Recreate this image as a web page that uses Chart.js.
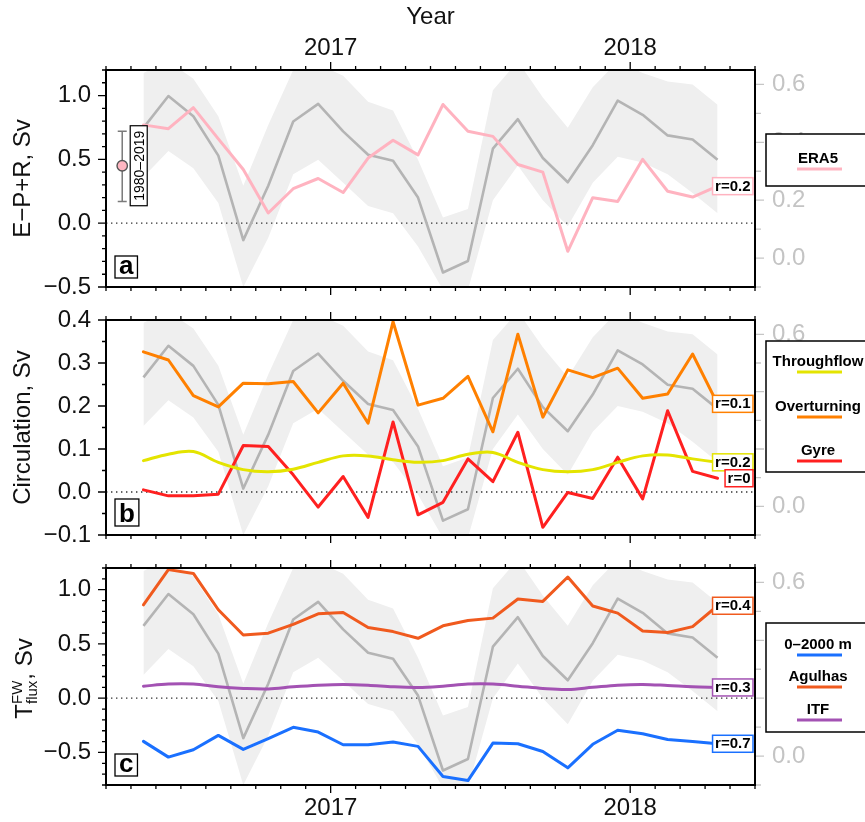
<!DOCTYPE html>
<html>
<head>
<meta charset="utf-8">
<script src="https://cdn.jsdelivr.net/npm/chart.js@4.4.1/dist/chart.umd.min.js"></script>
<style>
  html, body { margin: 0; padding: 0; background: #fff; }
  #wrap { position: relative; width: 865px; height: 822px; overflow: hidden; background: #fff; }
  #wrap canvas { position: absolute; left: 0; }
</style>
</head>
<body>
<div id="wrap">
  <canvas id="panelA" width="865" height="300" style="top:0px"></canvas>
  <canvas id="panelB" width="865" height="250" style="top:300px"></canvas>
  <canvas id="panelC" width="865" height="272" style="top:550px"></canvas>
</div>
<script>
// ---- monthly series, May 2016 - Apr 2018 ----
const months = ['2016-05','2016-06','2016-07','2016-08','2016-09','2016-10','2016-11','2016-12',
                '2017-01','2017-02','2017-03','2017-04','2017-05','2017-06','2017-07','2017-08',
                '2017-09','2017-10','2017-11','2017-12','2018-01','2018-02','2018-03','2018-04'];
const axisStart = '2016-04';
const axisEnd = '2018-06';
const yearTicks = [2017, 2018];

// grey index (right axis) with its spread
const indexMean  = [0.45, 0.56, 0.49, 0.354, 0.062, 0.25, 0.472, 0.533, 0.438, 0.357, 0.336, 0.209,
                    -0.05, -0.01, 0.378, 0.48, 0.346, 0.262, 0.39, 0.544, 0.495, 0.424, 0.41, 0.34];
const indexUpper = [0.64, 0.68, 0.62, 0.49, 0.25, 0.46, 0.65, 0.67, 0.63, 0.54, 0.51, 0.34,
                    0.14, 0.17, 0.58, 0.68, 0.555, 0.45, 0.59, 0.68, 0.64, 0.61, 0.6, 0.53];
const indexLower = [0.28, 0.37, 0.31, 0.19, -0.1, 0.07, 0.29, 0.34, 0.26, 0.18, 0.155, 0.04,
                    -0.11, -0.11, 0.2, 0.32, 0.2, 0.11, 0.26, 0.35, 0.33, 0.29, 0.225, 0.155];

// (a) E-P+R
const era5 = [0.77, 0.74, 0.905, 0.66, 0.42, 0.08, 0.27, 0.35, 0.24, 0.51, 0.65, 0.535,
              0.93, 0.72, 0.68, 0.46, 0.40, -0.22, 0.2, 0.17, 0.50, 0.25, 0.205, 0.29];
const era5Clim = [0.17, 0.45, 0.72];   // low, mean, high
const era5ClimLabel = '1980–2019';
const era5ClimX = 3.65;

// (b) circulation
const throughflow = [0.073, 0.088, 0.094, 0.069, 0.052, 0.047, 0.053, 0.069, 0.084, 0.084, 0.075, 0.069,
                     0.073, 0.088, 0.092, 0.069, 0.052, 0.047, 0.052, 0.069, 0.084, 0.086, 0.077, 0.069];
const overturning = [0.326, 0.307, 0.224, 0.198, 0.253, 0.252, 0.257, 0.184, 0.253, 0.16, 0.396, 0.202,
                     0.218, 0.269, 0.14, 0.367, 0.174, 0.284, 0.266, 0.288, 0.218, 0.228, 0.321, 0.205];
const gyre        = [0.005, -0.009, -0.009, -0.005, 0.108, 0.106, 0.04, -0.035, 0.036, -0.059, 0.163, -0.053,
                     -0.024, 0.077, 0.024, 0.139, -0.082, -0.001, -0.015, 0.081, -0.016, 0.189, 0.048, 0.032];

// (c) freshwater flux
const fw0to2000 = [-0.398, -0.543, -0.475, -0.343, -0.472, -0.373, -0.268, -0.312, -0.429, -0.429, -0.404, -0.444,
                   -0.722, -0.759, -0.414, -0.42, -0.491, -0.642, -0.425, -0.296, -0.327, -0.38, -0.398, -0.42];
const agulhas   = [0.86, 1.185, 1.15, 0.815, 0.583, 0.599, 0.68, 0.778, 0.79, 0.651, 0.614, 0.552,
                   0.667, 0.716, 0.738, 0.914, 0.892, 1.117, 0.85, 0.784, 0.62, 0.605, 0.66, 0.852];
const itf       = [0.111, 0.13, 0.13, 0.105, 0.09, 0.085, 0.105, 0.12, 0.127, 0.12, 0.105, 0.099,
                   0.111, 0.13, 0.13, 0.111, 0.09, 0.08, 0.1, 0.12, 0.127, 0.117, 0.105, 0.099];

// correlation labels
const corrA = [0.2];            // ERA5
const corrB = [0.2, 0.1, 0];    // Throughflow, Overturning, Gyre
const corrC = [0.7, 0.4, 0.3];  // 0-2000 m, Agulhas, ITF

// axis ticks
const ticksA = [-0.5, 0.0, 0.5, 1.0];
const ticksB = [-0.1, 0.0, 0.1, 0.2, 0.3, 0.4];
const ticksC = [-0.5, 0.0, 0.5, 1.0];
const ticksRight = [0.0, 0.2, 0.4, 0.6];

// ------------------------------------------------------------
const FONT = '"Liberation Sans", Arial, Helvetica, sans-serif';
Chart.defaults.font.family = FONT;

function monthPos(s) {
  const [yr, mo] = s.split('-').map(Number);
  return (yr - 2016) * 12 + (mo - 1);
}
const xMin = monthPos(axisStart);
const xMax = monthPos(axisEnd);
const fmt = v => (v < -1e-9 ? '\u2212' : '') + Math.abs(v).toFixed(1);
const pts = vals => months.map((m, i) => ({ x: monthPos(m) + 0.5, y: vals[i] }));

function drawFrameAndTicks(chart, p) {
  const { ctx, chartArea: a, scales } = chart;
  const x = scales.x, y = scales.y, y2 = scales.y2;
  ctx.save();
  ctx.strokeStyle = '#000';
  ctx.lineWidth = 1.3;
  ctx.beginPath();
  for (let m = Math.ceil(x.min); m <= x.max; m++) {
    const px = x.getPixelForValue(m);
    const len = (m % 12 === 0) ? 8 : 4;
    ctx.moveTo(px, a.top); ctx.lineTo(px, a.top - len);
    ctx.moveTo(px, a.bottom); ctx.lineTo(px, a.bottom + len);
  }
  const k0 = Math.ceil(y.min / p.minor - 1e-6), k1 = Math.floor(y.max / p.minor + 1e-6);
  for (let k = k0; k <= k1; k++) {
    const v = k * p.minor;
    const major = p.ticks.some(t => Math.abs(t - v) < 1e-6);
    const py = y.getPixelForValue(v);
    ctx.moveTo(a.left, py); ctx.lineTo(a.left - (major ? 8 : 4), py);
  }
  ctx.stroke();
  // right axis ticks (grey)
  ctx.strokeStyle = '#c6c6c6';
  ctx.beginPath();
  const r0 = Math.ceil(y2.min / 0.1 - 1e-6), r1 = Math.floor(y2.max / 0.1 + 1e-6);
  for (let k = r0; k <= r1; k++) {
    const py = y2.getPixelForValue(k * 0.1);
    ctx.moveTo(a.right + 1, py); ctx.lineTo(a.right + (k % 2 === 0 ? 9 : 6), py);
  }
  ctx.stroke();
  // frame
  ctx.strokeStyle = '#000';
  ctx.lineWidth = 2;
  ctx.strokeRect(a.left, a.top, a.right - a.left, a.bottom - a.top);
  ctx.restore();
}

function drawLegend(chart, p) {
  const { ctx } = chart;
  const L = p.legend;
  ctx.save();
  ctx.fillStyle = '#fff';
  ctx.fillRect(766, L.top, 120, L.bottom - L.top);
  ctx.strokeStyle = '#000';
  ctx.lineWidth = 1.5;
  ctx.strokeRect(766, L.top, 120, L.bottom - L.top);
  ctx.font = 'bold 15px ' + FONT;
  ctx.textAlign = 'center';
  ctx.textBaseline = 'middle';
  L.rows.forEach((row, i) => {
    const s = p.series[i];
    ctx.fillStyle = '#000';
    ctx.fillText(s.label, 818, row);
    ctx.strokeStyle = s.color;
    ctx.lineWidth = 3;
    ctx.beginPath();
    ctx.moveTo(797, row + 10); ctx.lineTo(842, row + 10);
    ctx.stroke();
  });
  ctx.restore();
}

function drawCorrBoxes(chart, p) {
  const { ctx, chartArea: a } = chart;
  ctx.save();
  ctx.font = 'bold 15px ' + FONT;
  ctx.textBaseline = 'middle';
  ctx.textAlign = 'right';
  p.series.forEach((s, i) => {
    const meta = chart.getDatasetMeta(i);
    const last = meta.data[meta.data.length - 1];
    const txt = 'r=' + s.corr;
    const w = ctx.measureText(txt).width + 5;
    const right = a.right - 2, h = 17;
    const top = last.y - h / 2;
    ctx.fillStyle = '#fff';
    ctx.fillRect(right - w, top, w, h);
    ctx.strokeStyle = s.color;
    ctx.lineWidth = 1.5;
    ctx.strokeRect(right - w, top, w, h);
    ctx.fillStyle = '#000';
    ctx.fillText(txt, right - 2.5, last.y + 0.5);
  });
  ctx.restore();
}

function drawPanelLetter(chart, p) {
  const { ctx, chartArea: a } = chart;
  ctx.save();
  ctx.font = 'bold 26px ' + FONT;
  ctx.textBaseline = 'alphabetic';
  const m = ctx.measureText(p.letter);
  const base = a.bottom - 13;
  const left = a.left + 9;
  const w = m.width + 8;
  const top = base - m.actualBoundingBoxAscent - 4;
  const bot = base + 4;
  ctx.fillStyle = '#fff';
  ctx.fillRect(left, top, w, bot - top);
  ctx.strokeStyle = '#000';
  ctx.lineWidth = 1.3;
  ctx.strokeRect(left, top, w, bot - top);
  ctx.fillStyle = '#000';
  ctx.fillText(p.letter, left + 4, base);
  ctx.restore();
}

function drawClimMarker(chart) {
  const { ctx, scales: { x, y } } = chart;
  const px = x.getPixelForValue(era5ClimX);
  const lo = y.getPixelForValue(era5Clim[0]);
  const mid = y.getPixelForValue(era5Clim[1]);
  const hi = y.getPixelForValue(era5Clim[2]);
  ctx.save();
  ctx.strokeStyle = '#7a7a7a';
  ctx.lineWidth = 1.5;
  ctx.beginPath();
  ctx.moveTo(px, lo); ctx.lineTo(px, hi);
  ctx.moveTo(px - 4.5, lo); ctx.lineTo(px + 4.5, lo);
  ctx.moveTo(px - 4.5, hi); ctx.lineTo(px + 4.5, hi);
  ctx.stroke();
  ctx.beginPath();
  ctx.arc(px, mid, 5.2, 0, Math.PI * 2);
  ctx.fillStyle = '#ffb6c1';
  ctx.fill();
  ctx.strokeStyle = '#555';
  ctx.lineWidth = 1.4;
  ctx.stroke();
  // period label
  const bx = px + 8, bw = 17, bh = 80;
  ctx.fillStyle = '#fff';
  ctx.fillRect(bx, mid - bh / 2, bw, bh);
  ctx.strokeStyle = '#000';
  ctx.lineWidth = 1.2;
  ctx.strokeRect(bx, mid - bh / 2, bw, bh);
  ctx.translate(bx + bw / 2 + 1, mid);
  ctx.rotate(-Math.PI / 2);
  ctx.font = '14px ' + FONT;
  ctx.fillStyle = '#000';
  ctx.textAlign = 'center';
  ctx.textBaseline = 'middle';
  ctx.fillText(era5ClimLabel, 0, 0);
  ctx.restore();
}

function drawFluxTitle(chart) {
  const { ctx, chartArea: a } = chart;
  const big = '24px ' + FONT, small = '15px ' + FONT;
  ctx.save();
  ctx.font = big;
  const wT = ctx.measureText('T').width;
  const wRest = ctx.measureText(', Sv').width;
  ctx.font = small;
  const wScript = Math.max(ctx.measureText('FW').width, ctx.measureText('flux').width);
  const total = wT + wScript + 1 + wRest;
  const cy = (a.top + a.bottom) / 2 + 2;
  ctx.translate(32, cy);
  ctx.rotate(-Math.PI / 2);
  ctx.fillStyle = '#111';
  ctx.textBaseline = 'alphabetic';
  ctx.textAlign = 'left';
  let cx = -total / 2;
  ctx.font = big; ctx.fillText('T', cx, 0); cx += wT;
  ctx.font = small; ctx.fillText('FW', cx, -10); ctx.fillText('flux', cx, 5); cx += wScript + 1;
  ctx.font = big; ctx.fillText(', Sv', cx, 0);
  ctx.restore();
}

const decor = {
  id: 'decor',
  beforeDatasetsDraw(chart, args, p) {
    const { ctx, chartArea: a, scales: { y } } = chart;
    const y0 = y.getPixelForValue(0);
    ctx.save();
    ctx.strokeStyle = '#333';
    ctx.lineWidth = 1.3;
    ctx.setLineDash([1.4, 3.6]);
    ctx.beginPath();
    ctx.moveTo(a.left, y0); ctx.lineTo(a.right, y0);
    ctx.stroke();
    ctx.restore();
  },
  afterDraw(chart, args, p) {
    drawFrameAndTicks(chart, p);
    drawLegend(chart, p);
    drawCorrBoxes(chart, p);
    drawPanelLetter(chart, p);
    if (p.clim) drawClimMarker(chart);
    if (p.fluxTitle) drawFluxTitle(chart);
  }
};

function makePanel(id, p) {
  const datasets = p.series.map(s => ({
    label: s.label, data: pts(s.values), xAxisID: 'x', yAxisID: 'y',
    borderColor: s.color, borderWidth: 3, pointRadius: 0, fill: false,
    tension: s.smooth ? 0.35 : 0, borderJoinStyle: 'round', borderCapStyle: 'round'
  }));
  datasets.push({ label: 'index', data: pts(indexMean), xAxisID: 'x', yAxisID: 'y2',
    borderColor: '#b4b4b4', borderWidth: 2.6, pointRadius: 0, fill: false, borderJoinStyle: 'round' });
  datasets.push({ label: 'upper', data: pts(indexUpper), xAxisID: 'x', yAxisID: 'y2',
    borderWidth: 0, borderColor: 'rgba(0,0,0,0)', pointRadius: 0, fill: '+1', backgroundColor: '#efefef' });
  datasets.push({ label: 'lower', data: pts(indexLower), xAxisID: 'x', yAxisID: 'y2',
    borderWidth: 0, borderColor: 'rgba(0,0,0,0)', pointRadius: 0, fill: false });

  const tickFont = { family: FONT, size: 24 };
  const xCommon = {
    type: 'linear', min: xMin, max: xMax,
    grid: { display: false, drawTicks: false }, border: { display: false },
    afterBuildTicks: s => { s.ticks = yearTicks.map(yr => ({ value: (yr - 2016) * 12 })); }
  };
  new Chart(document.getElementById(id), {
    type: 'line',
    data: { datasets },
    options: {
      responsive: false, animation: false, events: [], devicePixelRatio: 1,
      layout: { padding: 0 },
      plugins: { legend: { display: false }, tooltip: { enabled: false },
                 filler: { drawTime: 'beforeDatasetsDraw' }, decor: p },
      scales: {
        x: Object.assign({}, xCommon, {
          axis: 'x', position: 'bottom',
          ticks: { display: !!p.bottomLabels, padding: 9, font: tickFont, color: '#111',
                   maxRotation: 0, autoSkip: false, callback: v => String(2016 + v / 12) },
          afterFit: s => { s.height = p.bottomH; s.paddingLeft = 0; s.paddingRight = 0; }
        }),
        xt: Object.assign({}, xCommon, {
          axis: 'x', position: 'top',
          ticks: { display: !!p.topLabels, padding: 7.5, font: tickFont, color: '#111',
                   maxRotation: 0, autoSkip: false, callback: v => String(2016 + v / 12) },
          title: { display: !!p.topLabels, text: 'Year', font: tickFont, color: '#111',
                   padding: { top: 3, bottom: 0 } },
          afterFit: s => { s.height = p.topH; s.paddingLeft = 0; s.paddingRight = 0; }
        }),
        y: {
          axis: 'y', position: 'left', min: p.min, max: p.max,
          grid: { display: false, drawTicks: false }, border: { display: false },
          afterBuildTicks: s => { s.ticks = p.ticks.map(v => ({ value: v })); },
          ticks: { padding: 15, font: tickFont, color: '#111', callback: fmt },
          title: { display: !!p.yTitle, text: p.yTitle || '', font: tickFont, color: '#111',
                   padding: { top: 8.5, bottom: 0 } },
          afterFit: s => { s.width = 106; s.paddingTop = 0; s.paddingBottom = 0; }
        },
        y2: {
          axis: 'y', position: 'right', min: -0.1, max: 0.65,
          grid: { display: false, drawTicks: false }, border: { display: false },
          afterBuildTicks: s => { s.ticks = ticksRight.map(v => ({ value: v })); },
          ticks: { padding: 17, font: tickFont, color: '#c4c4c4', callback: fmt },
          afterFit: s => { s.width = 110; s.paddingTop = 0; s.paddingBottom = 0; }
        }
      }
    },
    plugins: [decor]
  });
}

makePanel('panelA', {
  min: -0.5, max: 1.2, ticks: ticksA, minor: 0.1, yTitle: 'E\u2212P+R, Sv',
  topH: 70, bottomH: 13, topLabels: true, letter: 'a', clim: true,
  series: [{ label: 'ERA5', values: era5, color: '#ffb3c0', corr: corrA[0] }],
  legend: { top: 134, bottom: 186, rows: [159] }
});
makePanel('panelB', {
  min: -0.1, max: 0.4, ticks: ticksB, minor: 0.05, yTitle: 'Circulation, Sv',
  topH: 20, bottomH: 15, letter: 'b',
  series: [
    { label: 'Throughflow', values: throughflow, color: '#e4e400', corr: corrB[0], smooth: true },
    { label: 'Overturning', values: overturning, color: '#ff8000', corr: corrB[1] },
    { label: 'Gyre', values: gyre, color: '#ff2020', corr: corrB[2] }
  ],
  legend: { top: 41, bottom: 172, rows: [62, 107, 151] }
});
makePanel('panelC', {
  min: -0.8, max: 1.2, ticks: ticksC, minor: 0.1, fluxTitle: true,
  topH: 18, bottomH: 37, bottomLabels: true, letter: 'c',
  series: [
    { label: '0\u20132000 m', values: fw0to2000, color: '#1a70ff', corr: corrC[0] },
    { label: 'Agulhas', values: agulhas, color: '#f05a1e', corr: corrC[1] },
    { label: 'ITF', values: itf, color: '#a352b3', corr: corrC[2], smooth: true }
  ],
  legend: { top: 73, bottom: 182, rows: [95, 127, 160] }
});
</script>
</body>
</html>
